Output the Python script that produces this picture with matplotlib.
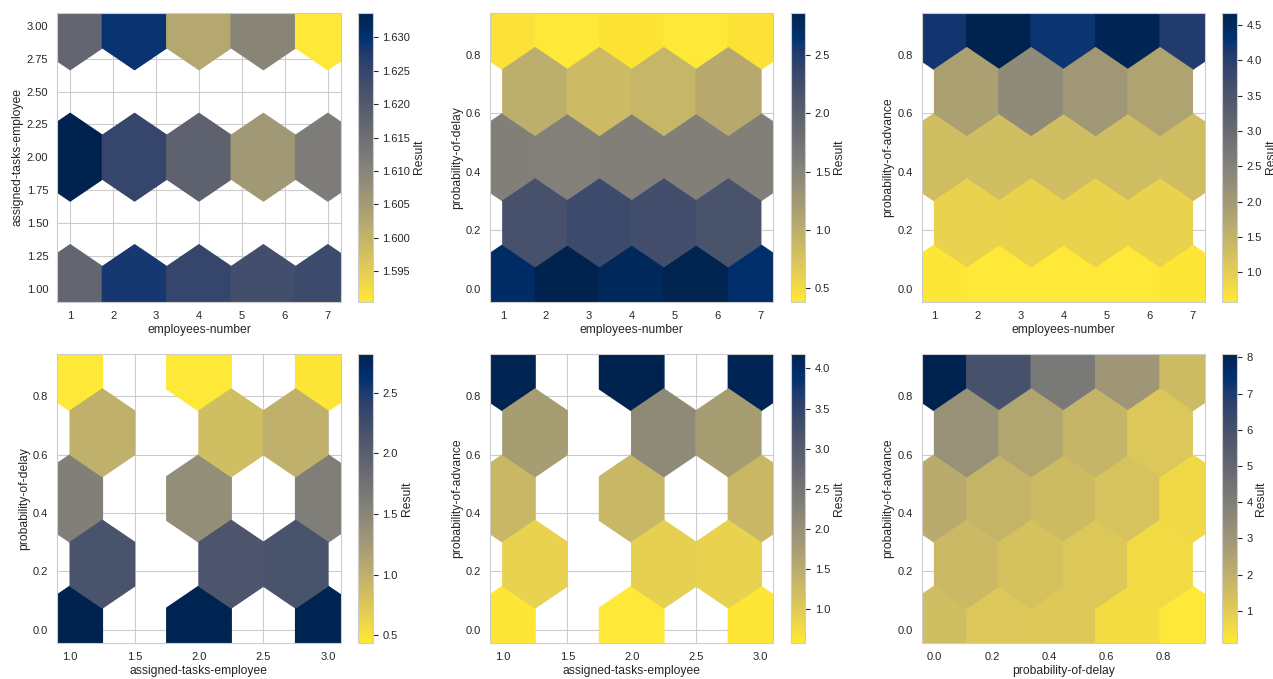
import numpy as np
import matplotlib
matplotlib.use("Agg")
import matplotlib.pyplot as plt
import seaborn as sns

sns.set_style("whitegrid")
plt.rcParams['font.family'] = ['Liberation Sans', 'DejaVu Sans']
plt.rcParams['xtick.labelsize'] = 8.0
plt.rcParams['ytick.labelsize'] = 8.0
plt.rcParams['axes.labelsize'] = 8.75

# ---- Panel 1: employees-number vs assigned-tasks-employee (cell means of Result)
p1_x = [1, 2.5, 4, 5.5, 7,   1, 2.5, 4, 5.5, 7,   1, 2.5, 4, 5.5, 7]
p1_y = [1, 1, 1, 1, 1,       2, 2, 2, 2, 2,       3, 3, 3, 3, 3]
p1_c = [1.6170, 1.6285, 1.6250, 1.6230, 1.6240,
        1.6337, 1.6250, 1.6180, 1.6056, 1.6120,
        1.6170, 1.6294, 1.6025, 1.6100, 1.5904]

# ---- Panel 2: employees-number vs probability-of-delay
p2_x = [1, 2.5, 4, 5.5, 7,  1.75, 3.25, 4.75, 6.25,  1, 2.5, 4, 5.5, 7,
        1.75, 3.25, 4.75, 6.25,  1, 2.5, 4, 5.5, 7]
p2_y = [0, 0, 0, 0, 0,  0.225, 0.225, 0.225, 0.225,  0.45, 0.45, 0.45, 0.45, 0.45,
        0.675, 0.675, 0.675, 0.675,  0.9, 0.9, 0.9, 0.9, 0.9]
p2_c = [2.72, 2.86, 2.78, 2.85, 2.70,
        2.20, 2.30, 2.25, 2.18,
        1.58, 1.56, 1.57, 1.57, 1.58,
        1.00, 0.85, 0.90, 1.05,
        0.45, 0.386, 0.43, 0.39, 0.44]

# ---- Panel 3: employees-number vs probability-of-advance
p3_x = p2_x
p3_y = p2_y
p3_c = [0.60, 0.58, 0.59, 0.58, 0.60,
        0.92, 0.90, 0.90, 0.93,
        1.30, 1.29, 1.29, 1.30, 1.30,
        1.85, 2.30, 2.05, 1.80,
        4.22, 4.676, 4.25, 4.60, 4.10]

# ---- Panel 4: assigned-tasks-employee vs probability-of-delay
p4_x = [1, 2, 3,  1.25, 2.25, 2.75,  1, 2, 3,  1.25, 2.25, 2.75,  1, 2, 3]
p4_y = [0, 0, 0,  0.225, 0.225, 0.225,  0.45, 0.45, 0.45,
        0.675, 0.675, 0.675,  0.9, 0.9, 0.9]
p4_c = [2.82, 2.80, 2.79,
        2.15, 2.14, 2.15,
        1.58, 1.40, 1.60,
        1.00, 0.85, 1.00,
        0.44, 0.437, 0.45]

# ---- Panel 5: assigned-tasks-employee vs probability-of-advance
p5_x = p4_x
p5_y = p4_y
p5_c = [0.60, 0.58, 0.60,
        0.90, 0.92, 0.90,
        1.30, 1.30, 1.30,
        1.75, 2.10, 1.75,
        4.15, 4.18, 4.12]

# ---- Panel 6: probability-of-delay vs probability-of-advance
p6_x = [0, 0.225, 0.45, 0.675, 0.9,  0.1125, 0.3375, 0.5625, 0.7875,
        0, 0.225, 0.45, 0.675, 0.9,  0.1125, 0.3375, 0.5625, 0.7875,
        0, 0.225, 0.45, 0.675, 0.9]
p6_y = [0, 0, 0, 0, 0,  0.225, 0.225, 0.225, 0.225,  0.45, 0.45, 0.45, 0.45, 0.45,
        0.675, 0.675, 0.675, 0.675,  0.9, 0.9, 0.9, 0.9, 0.9]
p6_c = [1.50, 1.20, 1.10, 0.50, 0.116,
        1.65, 1.35, 1.15, 0.55,
        2.20, 1.85, 1.60, 1.30, 0.60,
        3.20, 2.40, 1.80, 1.20,
        8.09, 5.95, 4.20, 3.00, 1.60]

panels = [
    (p1_x, p1_y, p1_c, (1, 7, 1, 3), "employees-number", "assigned-tasks-employee"),
    (p2_x, p2_y, p2_c, (1, 7, 0, 0.9), "employees-number", "probability-of-delay"),
    (p3_x, p3_y, p3_c, (1, 7, 0, 0.9), "employees-number", "probability-of-advance"),
    (p4_x, p4_y, p4_c, (1, 3, 0, 0.9), "assigned-tasks-employee", "probability-of-delay"),
    (p5_x, p5_y, p5_c, (1, 3, 0, 0.9), "assigned-tasks-employee", "probability-of-advance"),
    (p6_x, p6_y, p6_c, (0, 0.9, 0, 0.9), "probability-of-delay", "probability-of-advance"),
]

W, H = 1273, 679
fig = plt.figure(figsize=(W / 100, H / 100), dpi=100)

ax_lefts = [57.3, 490.0, 921.7]
cb_lefts = [358.3, 790.7, 1222.3]
row_tops = [12.7, 354.0]
ax_w, ax_h, cb_w = 283.4, 289.0, 14.4

for i, (x, y, c, ext, xl, yl) in enumerate(panels):
    r, col = divmod(i, 3)
    top = row_tops[r]
    ax = fig.add_axes([ax_lefts[col] / W, (H - top - ax_h) / H, ax_w / W, ax_h / H])
    cax = fig.add_axes([cb_lefts[col] / W, (H - top - ax_h) / H, cb_w / W, ax_h / H])
    hb = ax.hexbin(np.array(x), np.array(y), C=np.array(c), gridsize=4,
                   extent=ext, reduce_C_function=np.mean, cmap="cividis_r")
    ax.set_axisbelow(True)
    ax.set_xlabel(xl, labelpad=2)
    ax.set_ylabel(yl, labelpad=2)
    ax.tick_params(pad=3)
    cb = fig.colorbar(hb, cax=cax)
    cb.set_label("Result", labelpad=2)
    cb.ax.tick_params(labelsize=8.0)

fig.savefig("out.png", dpi=100)
